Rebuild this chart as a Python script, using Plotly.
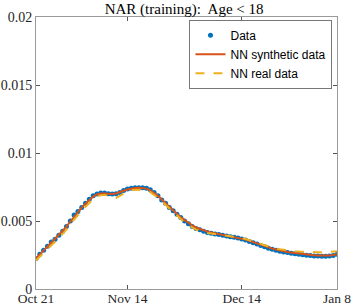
import pandas as pd
import plotly.graph_objects as go

start_date = "2020-10-21"
n_days = 80
dates = pd.date_range(start_date, periods=n_days, freq="D")

# Observed data (units of 1e-3)
data_vals = [2.25, 2.55, 2.85, 3.15, 3.45, 3.65, 3.95, 4.25, 4.6, 5.0,
             5.45, 5.7, 6.0, 6.3, 6.6, 6.85, 6.98, 7.05, 7.05, 7.0,
             6.98, 7.0, 7.1, 7.25, 7.35, 7.4, 7.45, 7.45, 7.45, 7.4,
             7.3, 7.1, 6.85, 6.55, 6.3, 6.0, 5.75, 5.5, 5.25, 5.0,
             4.8, 4.6, 4.45, 4.35, 4.25, 4.15, 4.1, 4.05, 4.0, 3.95,
             3.9, 3.85, 3.8, 3.75, 3.68, 3.6, 3.5, 3.4, 3.3, 3.2,
             3.1, 3.0, 2.92, 2.85, 2.78, 2.72, 2.68, 2.63, 2.6, 2.55,
             2.52, 2.48, 2.46, 2.43, 2.42, 2.40, 2.40, 2.42, 2.46, 2.55]

synthetic_vals = [2.25, 2.53, 2.82, 3.12, 3.42, 3.7, 3.98, 4.28, 4.6, 4.95,
                  5.35, 5.68, 5.98, 6.28, 6.57, 6.8, 6.95, 7.02, 7.03, 7.0,
                  6.99, 7.02, 7.1, 7.22, 7.32, 7.39, 7.43, 7.45, 7.44, 7.38,
                  7.26, 7.08, 6.85, 6.58, 6.3, 6.02, 5.76, 5.52, 5.28, 5.06,
                  4.86, 4.68, 4.52, 4.4, 4.3, 4.22, 4.15, 4.09, 4.04, 3.99,
                  3.94, 3.89, 3.84, 3.78, 3.71, 3.63, 3.54, 3.44, 3.34, 3.24,
                  3.14, 3.05, 2.97, 2.9, 2.83, 2.77, 2.72, 2.68, 2.64, 2.6,
                  2.57, 2.54, 2.51, 2.49, 2.47, 2.46, 2.46, 2.47, 2.5, 2.55]

real_vals = [2.1, 2.35, 2.62, 2.92, 3.2, 3.45, 3.75, 4.05, 4.35, 4.7,
             5.1, 5.45, 5.75, 6.05, 6.35, 6.6, 6.8, 6.9, 6.92, 6.85,
             6.72, 6.7, 6.85, 7.05, 7.2, 7.27, 7.3, 7.3, 7.3, 7.25,
             7.12, 6.95, 6.72, 6.45, 6.18, 5.9, 5.62, 5.35, 5.1, 4.88,
             4.68, 4.5, 4.36, 4.26, 4.18, 4.12, 4.08, 4.04, 4.0, 3.97,
             3.93, 3.9, 3.86, 3.81, 3.75, 3.68, 3.6, 3.51, 3.42, 3.32,
             3.22, 3.13, 3.05, 2.98, 2.92, 2.87, 2.83, 2.8, 2.77, 2.75,
             2.73, 2.72, 2.71, 2.7, 2.7, 2.7, 2.71, 2.72, 2.74, 2.78]

tick_dates = ["2020-10-21", "2020-11-14", "2020-12-14", "2021-01-08"]
tick_labels = ["Oct 21", "Nov 14", "Dec 14", "Jan 8"]
y_ticks = [0, 0.005, 0.01, 0.015, 0.02]
y_tick_labels = ["0", "0.005", "0.01", "0.015", "0.02"]

scale = 1e-3
fig = go.Figure()
fig.add_trace(go.Scatter(x=dates, y=[v * scale for v in data_vals], mode="markers",
                         name="Data", marker=dict(color="#0072BD", size=5)))
fig.add_trace(go.Scatter(x=dates, y=[v * scale for v in synthetic_vals], mode="lines",
                         name="NN synthetic data", line=dict(color="#D95319", width=2)))
fig.add_trace(go.Scatter(x=dates, y=[v * scale for v in real_vals], mode="lines",
                         name="NN real data", line=dict(color="#EDB120", width=2, dash="dash")))

serif = "Liberation Serif, Times New Roman, serif"
axis_common = dict(showgrid=False, zeroline=False, showline=True, linecolor="#9a9a9a",
                   linewidth=1, mirror="ticks", ticks="inside", ticklen=4,
                   tickcolor="#555", automargin=False)

fig.update_layout(
    width=354, height=306,
    margin=dict(l=36, r=17, t=17, b=17, autoexpand=False),
    paper_bgcolor="white", plot_bgcolor="white",
    title=dict(text="NAR (training):  Age < 18", x=0.52, xanchor="center",
               y=1 - 3 / 306, yanchor="top", automargin=False,
               font=dict(family=serif, size=15, color="#000")),
    showlegend=True,
    legend=dict(x=0.985, y=0.99, xanchor="right", yanchor="top",
                bgcolor="white", bordercolor="#777", borderwidth=1,
                font=dict(family="Liberation Sans, Arial, sans-serif", size=12, color="#000"),
                tracegroupgap=0, itemwidth=30),
    xaxis=dict(range=["2020-10-21", "2021-01-08"], tickvals=tick_dates, ticktext=tick_labels,
               ticklabelstandoff=-3, tickfont=dict(family=serif, size=13.5, color="#262626"),
               **axis_common),
    yaxis=dict(range=[0, 0.02], tickvals=y_ticks, ticktext=y_tick_labels,
               tickfont=dict(family=serif, size=14, color="#262626"), **axis_common),
)

fig.write_html("out.html",
               config={"displayModeBar": False, "staticPlot": True},
               post_script="document.body.style.margin='0';document.body.style.overflow='hidden';")
